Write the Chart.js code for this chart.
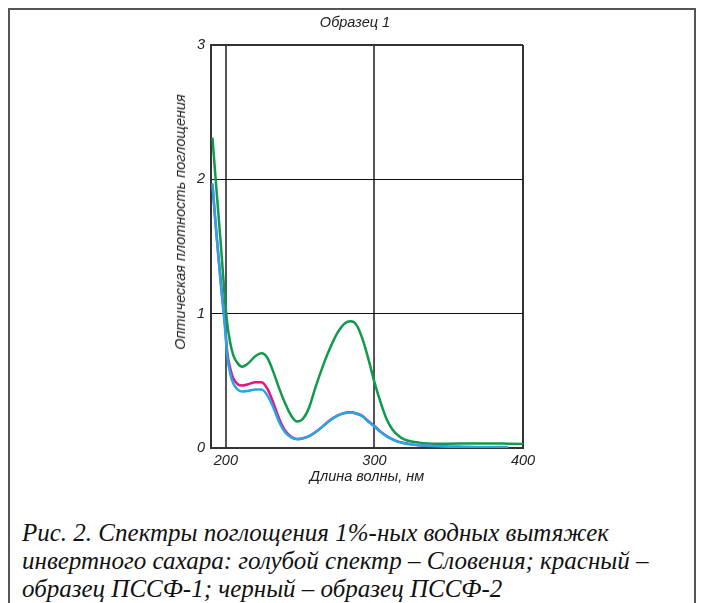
<!DOCTYPE html>
<html lang="ru">

<head>
    <meta charset="UTF-8">
    <title>Образец 1</title>
    <script src="https://cdn.jsdelivr.net/npm/chart.js"></script>
    <style>
        body { margin: 0; background: #fff; }
        #wrap { position: relative; width: 701px; height: 603px; overflow: hidden; background: #fff; }
        #frame {
            position: absolute; left: 8px; top: 8px; width: 684px; height: 620px;
            border: 2px solid #555;
        }
        canvas { position: absolute; left: 0; top: 0; }
        .lbl { position: absolute; font-family: "Liberation Sans", Arial, sans-serif; font-style: italic; color: #222; white-space: nowrap; }
        #title { left: 355px; top: 22px; font-size: 14.5px; transform: translate(-50%, -50%); }
        #ytitle { left: 180px; top: 222px; font-size: 14.5px; transform: translate(-50%, -50%) rotate(-90deg); }
        #caption {
            position: absolute; left: 22px; top: 519px;
            font-family: "Liberation Serif", "Times New Roman", serif; font-style: italic;
            font-size: 25px; line-height: 28px; color: #111; white-space: nowrap;
        }
    </style>
</head>

<body>
    <div id="wrap">
        <div id="frame"></div>
        <canvas id="spectra" width="701" height="500"></canvas>
        <div class="lbl" id="title">Образец 1</div>
        <div class="lbl" id="ytitle">Оптическая плотность поглощения</div>
        <div id="caption">Рис. 2. Спектры поглощения 1%-ных водных вытяжек<br>инвертного сахара: голубой спектр – Словения; красный –<br>образец ПССФ-1; черный – образец ПССФ-2</div>
    </div>

    <script>
        // длина волны, нм
        const wavelengths = [191, 193, 195, 197, 199, 201, 203, 205, 208, 211, 215, 220, 224, 228, 232, 236, 240, 244, 248, 252,
            256, 260, 265, 270, 275, 280, 284, 288, 292, 296, 300, 304, 308, 312, 316, 320, 325, 330, 340, 350,
            360, 370, 380, 390, 400];

        // голубой - Словения
        const slovenia = [1.97, 1.68, 1.42, 1.17, 0.95, 0.68, 0.55, 0.48, 0.435, 0.42, 0.425, 0.435, 0.435, 0.39, 0.30, 0.19, 0.115, 0.078, 0.065, 0.072,
            0.088, 0.115, 0.158, 0.205, 0.24, 0.26, 0.265, 0.255, 0.235, 0.195, 0.16, 0.12, 0.088, 0.064, 0.046, 0.036, 0.027, 0.021, 0.014, 0.01,
            0.008, 0.006, 0.005, 0.004, null];

        // красный - ПССФ-1
        const pssf1 = [1.96, 1.68, 1.43, 1.19, 0.97, 0.71, 0.59, 0.52, 0.475, 0.465, 0.475, 0.49, 0.49, 0.44, 0.335, 0.215, 0.128, 0.083, 0.067, 0.073,
            0.089, 0.116, 0.159, 0.206, 0.241, 0.261, 0.266, 0.257, 0.238, 0.199, 0.164, 0.124, 0.091, 0.066, 0.047, 0.037, 0.027, 0.021, 0.014, 0.01,
            0.008, 0.006, 0.005, 0.004, null];

        // черный (зелёная линия) - ПССФ-2
        const pssf2 = [2.31, 2.02, 1.74, 1.46, 1.16, 0.92, 0.78, 0.69, 0.63, 0.605, 0.63, 0.685, 0.705, 0.67, 0.565, 0.44, 0.33, 0.24, 0.197, 0.22,
            0.30, 0.44, 0.60, 0.74, 0.855, 0.927, 0.943, 0.915, 0.81, 0.66, 0.49, 0.345, 0.22, 0.14, 0.093, 0.065, 0.048, 0.04, 0.032, 0.032,
            0.033, 0.034, 0.034, 0.032, 0.03];

        const xTicks = [200, 300, 400];
        const yTicks = [0, 1, 2, 3];

        const toPoints = (ys) => wavelengths.map((x, i) => ({ x: x, y: ys[i] }));

        const tickFont = { family: 'Liberation Sans', style: 'italic', size: 14.5 };

        new Chart(document.getElementById('spectra'), {
            type: 'line',
            data: {
                datasets: [
                    { label: 'Словения', data: toPoints(slovenia), borderColor: '#22a8e6' },
                    { label: 'ПССФ-1', data: toPoints(pssf1), borderColor: '#e5157f' },
                    { label: 'ПССФ-2', data: toPoints(pssf2), borderColor: '#0f9a4c' }
                ]
            },
            options: {
                responsive: false,
                animation: false,
                layout: { padding: { left: 0, right: 178, top: 45, bottom: 0 } },
                elements: {
                    line: { borderWidth: 2.5, cubicInterpolationMode: 'monotone', fill: false },
                    point: { radius: 0 }
                },
                plugins: {
                    legend: { display: false },
                    tooltip: { enabled: false }
                },
                scales: {
                    x: {
                        type: 'linear',
                        min: 190,
                        max: 400,
                        afterBuildTicks: (scale) => { scale.ticks = xTicks.map(v => ({ value: v })); },
                        afterFit: (scale) => { scale.height = 52; },
                        ticks: { font: tickFont, color: '#222', padding: 4, maxRotation: 0 },
                        grid: {
                            drawTicks: false,
                            color: (c) => c.tick && c.tick.value === 400 ? '#333' : '#555',
                            lineWidth: 2
                        },
                        border: { color: '#333', width: 2 },
                        title: {
                            display: true,
                            text: 'Длина волны, нм',
                            font: { family: 'Liberation Sans', style: 'italic', size: 14.5 },
                            color: '#222',
                            padding: { top: 0, bottom: 14 }
                        }
                    },
                    y: {
                        min: 0,
                        max: 3,
                        afterBuildTicks: (scale) => { scale.ticks = yTicks.map(v => ({ value: v })); },
                        afterFit: (scale) => { scale.width = 211; },
                        ticks: { font: tickFont, color: '#222', padding: 6 },
                        grid: {
                            drawTicks: false,
                            color: (c) => {
                                if (!c.tick || c.tick.value === 0) return 'rgba(0,0,0,0)';
                                return c.tick.value === 3 ? '#333' : '#111';
                            },
                            lineWidth: (c) => c.tick && c.tick.value === 3 ? 2 : 1
                        },
                        border: { color: '#333', width: 2 }
                    }
                }
            }
        });
    </script>
</body>

</html>
